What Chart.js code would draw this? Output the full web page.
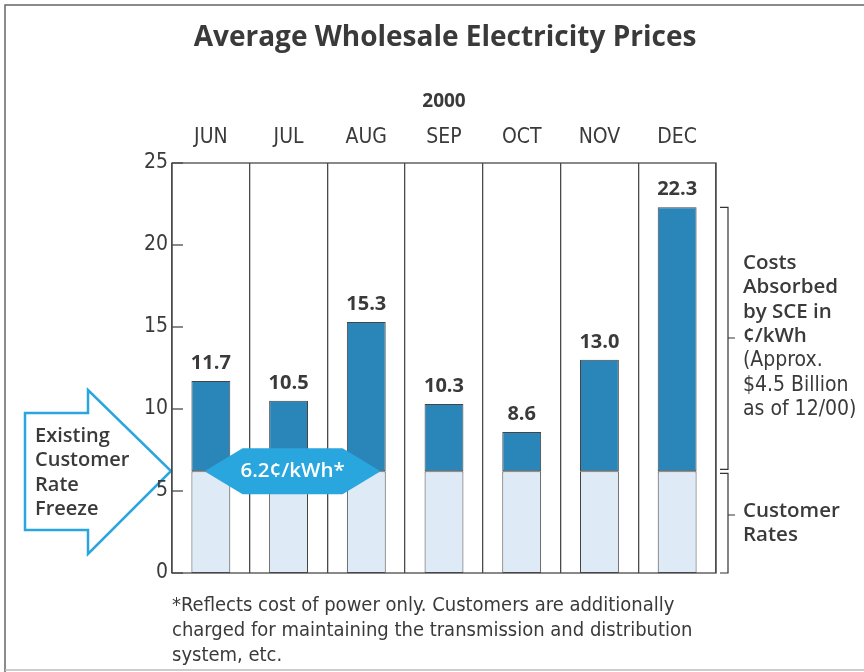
<!DOCTYPE html>
<html>
<head>
<meta charset="utf-8">
<script src="https://cdn.jsdelivr.net/npm/chart.js@4.4.1/dist/chart.umd.min.js"></script>
<style>
  body { margin: 0; background: #fff; }
  #wrap { width: 864px; height: 672px; }
</style>
</head>
<body>
<div id="wrap"><canvas id="myChart" width="864" height="672"></canvas></div>
<script>
// data
const months = ['JUN', 'JUL', 'AUG', 'SEP', 'OCT', 'NOV', 'DEC'];
const avgPrices = [11.7, 10.5, 15.3, 10.3, 8.6, 13.0, 22.3];
const customerRates = [6.2, 6.2, 6.2, 6.2, 6.2, 6.2, 6.2];
const yTicks = [0, 5, 10, 15, 20, 25];

const absorbed = avgPrices.map((v, i) => +(v - customerRates[i]).toFixed(1));

const textColor = '#3a3a3a';
const lineColor = '#4a4a4a';
const cyan = '#2aa6de';
const narrow = '"Liberation Sans Narrow", "DejaVu Sans Condensed", sans-serif';
const bold = '"Open Sans", "DejaVu Sans", sans-serif';

// draws titles, frame, arrow, labels and brackets
const decorPlugin = {
    id: 'decor',
    beforeDraw(chart) {
        const ctx = chart.ctx;
        ctx.save();
        ctx.fillStyle = '#fff';
        ctx.fillRect(0, 0, chart.width, chart.height);

        // page frame
        ctx.strokeStyle = '#666';
        ctx.lineWidth = 1.5;
        ctx.beginPath();
        ctx.moveTo(5, 672);
        ctx.lineTo(5, 5);
        ctx.lineTo(864, 5);
        ctx.stroke();
        ctx.strokeStyle = '#bbb';
        ctx.beginPath();
        ctx.moveTo(5, 670);
        ctx.lineTo(864, 670);
        ctx.stroke();

        // rate freeze arrow
        ctx.strokeStyle = cyan;
        ctx.lineWidth = 2.5;
        ctx.fillStyle = '#fff';
        ctx.beginPath();
        ctx.moveTo(25, 413);
        ctx.lineTo(88, 413);
        ctx.lineTo(88, 390);
        ctx.lineTo(171, 471);
        ctx.lineTo(88, 554);
        ctx.lineTo(88, 530);
        ctx.lineTo(25, 530);
        ctx.closePath();
        ctx.fill();
        ctx.stroke();

        ctx.fillStyle = textColor;
        ctx.font = '600 20px ' + bold;
        ctx.textAlign = 'left';
        ctx.textBaseline = 'middle';
        ['Existing', 'Customer', 'Rate', 'Freeze'].forEach((t, i) => {
            ctx.fillText(t, 35, 436 + i * 24.5);
        });
        ctx.restore();
    },
    afterDraw(chart) {
        const ctx = chart.ctx;
        const area = chart.chartArea;
        const x = chart.scales.x;
        const y = chart.scales.y;
        ctx.save();

        // plot frame
        ctx.strokeStyle = lineColor;
        ctx.lineWidth = 1.3;
        ctx.strokeRect(area.left, area.top, area.right - area.left, area.bottom - area.top);

        // inward y ticks
        yTicks.forEach(v => {
            const py = y.getPixelForValue(v);
            ctx.beginPath();
            ctx.moveTo(area.left, py);
            ctx.lineTo(area.left + 11, py);
            ctx.stroke();
        });

        // value labels
        ctx.fillStyle = textColor;
        ctx.font = '700 20px ' + bold;
        ctx.textAlign = 'center';
        ctx.textBaseline = 'bottom';
        const meta = chart.getDatasetMeta(1);
        avgPrices.forEach((v, i) => {
            const px = meta.data[i].x;
            ctx.fillText(v.toFixed(1), px, y.getPixelForValue(v) - 8);
        });

        // titles
        ctx.font = '700 28px ' + bold;
        ctx.fillText('Average Wholesale Electricity Prices', 445, 52);
        ctx.font = '700 19px ' + bold;
        ctx.fillText('2000', (area.left + area.right) / 2, 111);

        // 6.2 c/kWh hexagon
        const hy = y.getPixelForValue(customerRates[0]);
        const hx = x.getPixelForValue(1) + 4;
        ctx.fillStyle = cyan;
        ctx.beginPath();
        ctx.moveTo(hx - 88, hy);
        ctx.lineTo(hx - 50, hy - 23);
        ctx.lineTo(hx + 50, hy - 23);
        ctx.lineTo(hx + 88, hy);
        ctx.lineTo(hx + 50, hy + 23);
        ctx.lineTo(hx - 50, hy + 23);
        ctx.closePath();
        ctx.fill();
        ctx.fillStyle = '#fff';
        ctx.font = '600 20.5px ' + bold;
        ctx.textBaseline = 'middle';
        ctx.fillText('6.2\u00a2/kWh*', hx, hy);

        // right brackets
        const bx = area.right + 12;
        const top = y.getPixelForValue(Math.max(...avgPrices));
        const mid = y.getPixelForValue(customerRates[0]);
        ctx.strokeStyle = '#333';
        ctx.lineWidth = 1.2;
        ctx.beginPath();
        ctx.moveTo(bx - 8, top);
        ctx.lineTo(bx, top);
        ctx.lineTo(bx, mid - 2);
        ctx.lineTo(bx - 8, mid - 2);
        ctx.moveTo(bx, 338);
        ctx.lineTo(bx + 7, 338);
        ctx.moveTo(bx - 8, mid + 2);
        ctx.lineTo(bx, mid + 2);
        ctx.lineTo(bx, area.bottom);
        ctx.lineTo(bx - 8, area.bottom);
        ctx.moveTo(bx, 515);
        ctx.lineTo(bx + 7, 515);
        ctx.stroke();

        ctx.fillStyle = textColor;
        ctx.textAlign = 'left';
        ctx.font = '600 20.5px ' + bold;
        ['Costs', 'Absorbed', 'by SCE in', '\u00a2/kWh'].forEach((t, i) => {
            ctx.fillText(t, 743, 263 + i * 24.5);
        });
        ctx.font = '21px ' + narrow;
        ['(Approx.', '$4.5 Billion', 'as of 12/00)'].forEach((t, i) => {
            ctx.fillText(t, 743, 361 + i * 24.5);
        });
        ctx.font = '600 20.5px ' + bold;
        ctx.fillText('Customer', 743, 511);
        ctx.fillText('Rates', 743, 535);

        // footnote
        ctx.font = '20px ' + narrow;
        [
            '*Reflects cost of power only. Customers are additionally',
            'charged for maintaining the transmission and distribution',
            'system, etc.'
        ].forEach((t, i) => {
            ctx.fillText(t, 172, 606 + i * 25);
        });
        ctx.restore();
    }
};

const config = {
    type: 'bar',
    data: {
        labels: months,
        datasets: [{
            label: 'Customer Rates',
            data: customerRates,
            backgroundColor: '#deeaf6',
            borderColor: '#444',
            borderWidth: 1,
            borderSkipped: false,
            barPercentage: 0.5,
            categoryPercentage: 1
        }, {
            label: 'Costs Absorbed by SCE',
            data: absorbed,
            backgroundColor: '#2a86b9',
            borderColor: '#444',
            borderWidth: 1,
            borderSkipped: false,
            barPercentage: 0.5,
            categoryPercentage: 1
        }]
    },
    options: {
        responsive: false,
        animation: false,
        layout: { padding: { left: 0, right: 148, top: 0, bottom: 99 } },
        plugins: {
            legend: { display: false },
            tooltip: { enabled: false }
        },
        scales: {
            x: {
                position: 'top',
                stacked: true,
                offset: true,
                grid: { offset: true, color: lineColor, lineWidth: 1.3, drawTicks: false },
                border: { display: false },
                ticks: {
                    color: textColor,
                    font: { family: narrow, size: 21 },
                    padding: 13
                },
                afterFit: s => { s.height = 163; }
            },
            y: {
                stacked: true,
                min: 0,
                max: 25,
                grid: { display: false, drawTicks: false },
                border: { display: false },
                ticks: {
                    stepSize: 5,
                    color: textColor,
                    font: { family: narrow, size: 21 },
                    padding: 4
                },
                afterFit: s => { s.width = 172; }
            }
        }
    },
    plugins: [decorPlugin]
};

const myChart = new Chart(document.getElementById('myChart'), config);
</script>
</body>
</html>
